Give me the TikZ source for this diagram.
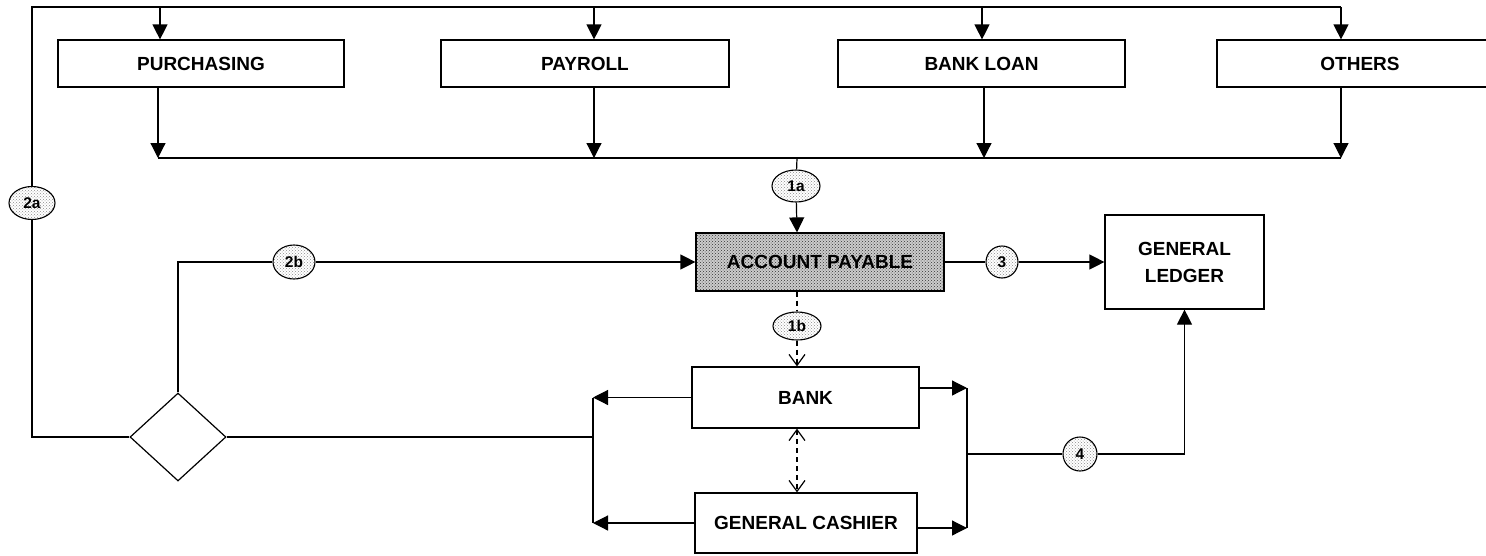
\documentclass[tikz,border=0pt]{standalone}
\usepackage{fontspec}
\setmainfont{Liberation Sans}
\usetikzlibrary{arrows.meta,shapes.geometric,patterns}

\tikzset{
  wire/.style={line width=1.2pt, draw=black},
  arr/.style={wire, -{Triangle[length=15pt,width=15pt]}},
  barb/.style={wire, dashed, dash pattern=on 5pt off 4pt, -{Straight Barb[length=11pt,width=16pt]}},
  dbarb/.style={wire, dashed, dash pattern=on 5pt off 4pt, {Straight Barb[length=11pt,width=16pt]}-{Straight Barb[length=11pt,width=16pt]}},
  dwire/.style={wire, dashed, dash pattern=on 5pt off 4pt},
  unit/.style={draw, line width=1.2pt, rectangle, inner sep=0pt, align=center,
               font=\fontsize{19}{27}\selectfont\bfseries},
  tag/.style={draw, line width=1.1pt, ellipse, inner sep=0pt,
              pattern=crosshatch dots, pattern color=gray!90,
              font=\fontsize{15.5}{17}\selectfont\bfseries},
  ledgerunit/.style={unit, preaction={fill=gray!40}, pattern=crosshatch dots, pattern color=black!80},
}

\begin{document}
\begin{tikzpicture}[x=1pt,y=-1pt]
  \clip (0,0) rectangle (1486,555);
  \fill[white] (0,0) rectangle (1486,555);

  % source departments
  \node[unit, minimum width=286pt, minimum height=47pt] (pur)  at (201,63.5)   {PURCHASING};
  \node[unit, minimum width=288pt, minimum height=47pt] (pay)  at (585,63.5)   {PAYROLL};
  \node[unit, minimum width=287pt, minimum height=47pt] (loan) at (981.5,63.5) {BANK LOAN};
  \node[unit, minimum width=286pt, minimum height=47pt] (oth)  at (1360,63.5)  {OTHERS};

  % central units
  \node[ledgerunit, minimum width=248pt, minimum height=58pt] (ap) at (820,262) {ACCOUNT PAYABLE};
  \node[unit, minimum width=159pt, minimum height=94pt] (gl) at (1184.5,262) {GENERAL\\LEDGER};
  \node[unit, minimum width=227pt, minimum height=61pt] (bank) at (805.5,397.5) {BANK};
  \node[unit, minimum width=222pt, minimum height=60pt] (cash) at (806,523) {GENERAL CASHIER};
  \node[draw, line width=1.2pt, diamond, inner sep=0pt, minimum width=96pt, minimum height=88pt] (dia) at (178,437) {};

  % step tags
  \node[tag, minimum width=46pt, minimum height=33pt] (e2a) at (32,203) {2a};
  \node[tag, minimum width=48pt, minimum height=32pt] (e1a) at (796,186) {1a};
  \node[tag, minimum width=42pt, minimum height=34pt] (e2b) at (294,262) {2b};
  \node[tag, minimum width=32pt, minimum height=32pt] (e3)  at (1002,262) {3};
  \node[tag, minimum width=48pt, minimum height=28pt] (e1b) at (797,326) {1b};
  \node[tag, minimum width=34pt, minimum height=34pt] (e4)  at (1080,454) {4};

  % routing points
  \coordinate (tl) at (32,7);
  \coordinate (t1) at (160,7);
  \coordinate (t2) at (594,7);
  \coordinate (t3) at (982,7);
  \coordinate (t4) at (1341,7);
  \coordinate (b1) at (158,158);
  \coordinate (b2) at (594,158);
  \coordinate (b3) at (984,158);
  \coordinate (b4) at (1341,158);
  \coordinate (m)  at (797,158);
  \coordinate (lj) at (593,437);
  \coordinate (rj1) at (967,388);
  \coordinate (rj2) at (967,528);
  \coordinate (rj)  at (967,454);

  % 2a: return loop over the top to every department
  \draw[wire] (dia.west) -| (e2a.south);
  \draw[wire] (e2a.north) -- (tl) -- (t4);
  \draw[arr] (t1) -- (t1 |- pur.north);
  \draw[arr] (t2) -- (t2 |- pay.north);
  \draw[arr] (t3) -- (t3 |- loan.north);
  \draw[arr] (t4) -- (t4 |- oth.north);

  % 1a: departments into account payable
  \draw[arr] (b1 |- pur.south) -- (b1);
  \draw[arr] (b2 |- pay.south) -- (b2);
  \draw[arr] (b3 |- loan.south) -- (b3);
  \draw[arr] (b4 |- oth.south) -- (b4);
  \draw[wire] (b1) -- (b4);
  \draw[wire] (m) -- (e1a);
  \draw[arr] (e1a) -- (m |- ap.north);

  % 2b: decision back to account payable
  \draw[wire] (dia.north) |- (e2b.west);
  \draw[arr] (e2b.east) -- (ap.west);

  % 3: account payable to general ledger
  \draw[wire] (ap.east) -- (e3);
  \draw[arr] (e3) -- (gl.west);

  % 1b: payment order to the bank
  \draw[dwire] (m |- ap.south) -- (e1b);
  \draw[barb] (e1b) -- (m |- bank.north);
  \draw[dbarb] (m |- bank.south) -- (m |- cash.north);

  % bank and cashier to the decision
  \draw[arr] (bank.west) -- (bank.west -| lj);
  \draw[arr] (cash.west) -- (cash.west -| lj);
  \draw[wire] (bank.west -| lj) -- (cash.west -| lj);
  \draw[wire] (dia.east) -- (lj);

  % 4: bank and cashier to the general ledger
  \draw[arr] (rj1 -| bank.east) -- (rj1);
  \draw[arr] (rj2 -| cash.east) -- (rj2);
  \draw[wire] (rj1) -- (rj2);
  \draw[wire] (rj) -- (e4);
  \draw[arr] (e4) -| (gl.south);
\end{tikzpicture}
\end{document}
